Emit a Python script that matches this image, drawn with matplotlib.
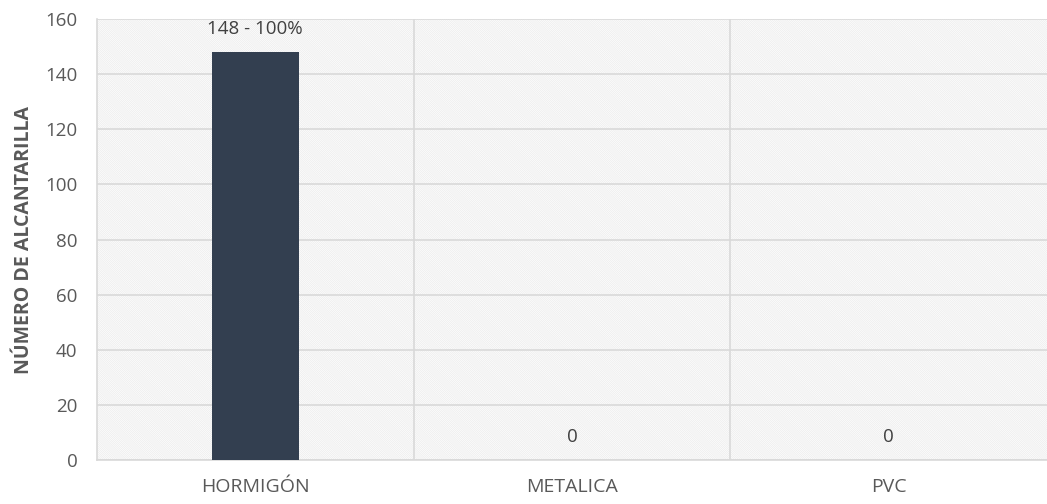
import matplotlib
matplotlib.use("Agg")
import matplotlib.pyplot as plt
from matplotlib.patches import Rectangle

# datos
categorias = ["HORMIGÓN", "METALICA", "PVC"]
valores = [148, 0, 0]
etiquetas = ["148 - 100%", "0", "0"]
yticks = [0, 20, 40, 60, 80, 100, 120, 140, 160]

plt.rcParams["font.family"] = ["Open Sans", "DejaVu Sans"]
plt.rcParams["hatch.linewidth"] = 0.6

fig = plt.figure(figsize=(10.47, 5.04), dpi=100)
ax = fig.add_axes([0.0926, 0.0873, 0.9074, 0.8750])

x = list(range(len(categorias)))

# fondo rayado
fondo = Rectangle((0, 0), 1, 1, transform=ax.transAxes, facecolor="white",
                  edgecolor="#EDEDED", hatch="\\" * 16,
                  linewidth=0, zorder=0)
ax.add_patch(fondo)

ax.bar(x, valores, width=0.275, color="#333F50", zorder=3)

for xi, v, t in zip(x, valores, etiquetas):
    ax.annotate(t, (xi, v), xytext=(0, 16.5), textcoords="offset points",
                ha="center", va="center", fontsize=13.5, color="#404040")

ax.set_xlim(-0.5, len(categorias) - 0.5)
ax.set_ylim(0, 160)
ax.set_yticks(yticks)
ax.set_xticks(x)
ax.set_xticklabels(categorias)
ax.set_xticks([i + 0.5 for i in x[:-1]], minor=True)

ax.grid(axis="y", color="#D9D9D9", linewidth=1.2, zorder=1)
ax.grid(axis="x", which="minor", color="#D9D9D9", linewidth=1.2, zorder=1)
ax.set_axisbelow(True)

ax.tick_params(axis="both", which="both", length=0, colors="#595959")
ax.tick_params(axis="y", pad=14, labelsize=13.5)
ax.tick_params(axis="x", pad=13, labelsize=14)

for s in ["top", "right"]:
    ax.spines[s].set_visible(False)
for s in ["left", "bottom"]:
    ax.spines[s].set_color("#D9D9D9")
    ax.spines[s].set_linewidth(1.2)

ax.set_ylabel("NÚMERO DE ALCANTARILLA", fontsize=14, fontweight="bold",
              color="#595959", labelpad=8)

fig.savefig("out.png", dpi=100)
